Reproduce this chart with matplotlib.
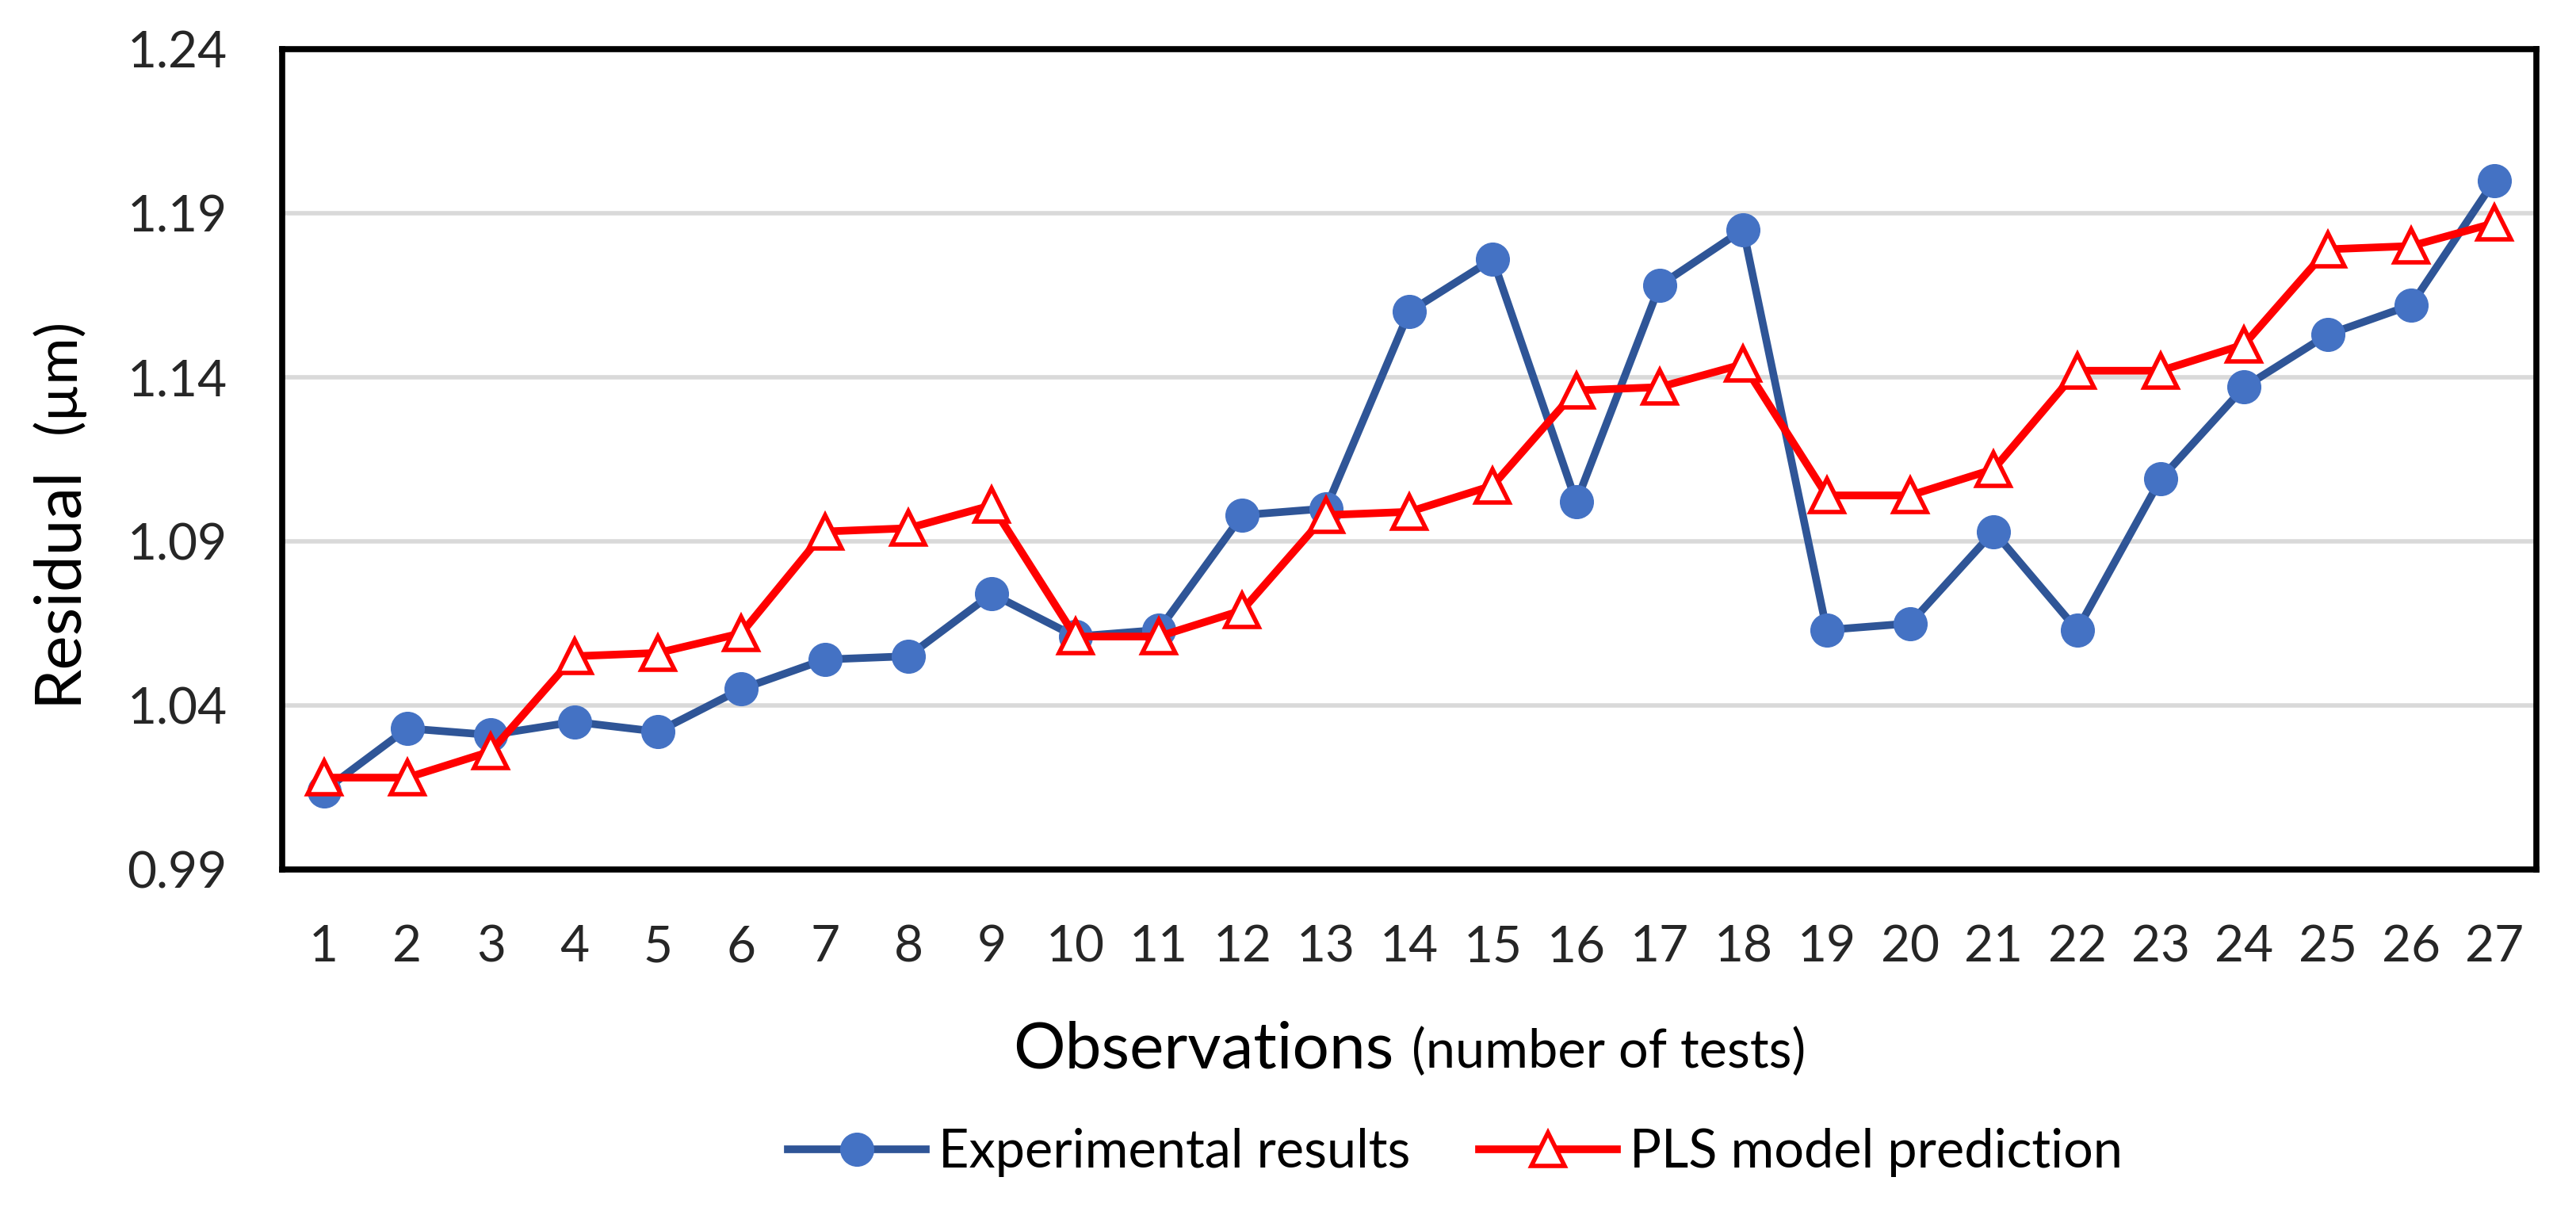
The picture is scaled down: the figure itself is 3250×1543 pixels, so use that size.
import numpy as np
import matplotlib
matplotlib.use("Agg")
import matplotlib.pyplot as plt

plt.rcParams['font.family'] = ['Lato', 'DejaVu Sans']

# observations 1..27
obs = list(range(1, 28))
experimental = [1.014, 1.033, 1.031, 1.035, 1.032, 1.045, 1.054, 1.055, 1.074, 1.061,
                1.063, 1.098, 1.100, 1.160, 1.176, 1.102, 1.168, 1.185, 1.063, 1.065,
                1.093, 1.063, 1.109, 1.137, 1.153, 1.162, 1.200]
pls_pred = [1.018, 1.018, 1.026, 1.055, 1.056, 1.062, 1.093, 1.094, 1.101, 1.061,
            1.061, 1.069, 1.098, 1.099, 1.107, 1.136, 1.137, 1.144, 1.104, 1.104,
            1.112, 1.142, 1.142, 1.150, 1.179, 1.180, 1.187]
yticks = [0.99, 1.04, 1.09, 1.14, 1.19, 1.24]

W, H = 3250, 1543
fig = plt.figure(figsize=(W / 100, H / 100), dpi=100)
ax = fig.add_axes([356 / W, 1 - 1097 / H, (3200 - 356) / W, (1097 - 62) / H])

x = np.arange(len(obs))
ax.plot(x, experimental, color='#2F5597', lw=7, marker='o', ms=30,
        mfc='#4472C4', mec='#4472C4', label='Experimental results', zorder=3)
ax.plot(x, pls_pred, color='#FF0000', lw=7, marker='^', ms=30, mfc='white',
        mec='#FF0000', mew=4, label='PLS model prediction', zorder=4)

ax.set_xlim(-0.5, len(obs) - 0.5)
ax.set_ylim(yticks[0], yticks[-1])
ax.set_xticks(x)
ax.set_xticklabels([str(o) for o in obs])
ax.set_yticks(yticks)
ax.set_yticklabels(['%.2f' % v for v in yticks])
ax.tick_params(length=0, labelsize=46, labelcolor='#262626', pad=50)
ax.grid(axis='y', color='#D9D9D9', lw=4, zorder=0)
ax.set_axisbelow(True)
for s in ax.spines.values():
    s.set_linewidth(5.5)
    s.set_color('black')
    s.set_zorder(5)

# axis titles with two text sizes
renderer = fig.canvas.get_renderer()
t1 = fig.text(0, 1 - 1347 / H, 'Observations', fontsize=59, ha='left', va='baseline')
t2 = fig.text(0, 1 - 1347 / H, '(number of tests)', fontsize=48, ha='left', va='baseline')
w1 = t1.get_window_extent(renderer).width
w2 = t2.get_window_extent(renderer).width
gap = 22
start = 1778 - (w1 + gap + w2) / 2
t1.set_x(start / W)
t2.set_x((start + w1 + gap) / W)

r1 = fig.text(95 / W, 0, 'Residual', fontsize=59, rotation=90, rotation_mode='anchor',
              ha='left', va='baseline')
r2 = fig.text(95 / W, 0, '(µm)', fontsize=52, rotation=90, rotation_mode='anchor',
              ha='left', va='baseline')
h1 = r1.get_window_extent(renderer).height
h2 = r2.get_window_extent(renderer).height
gap = 40
ystart = (H - 645) - (h1 + gap + h2) / 2
r1.set_y(ystart / H)
r2.set_y((ystart + h1 + gap) / H)

fig.legend(loc='center', bbox_to_anchor=(0.565, 1 - 1454 / H), ncol=2, frameon=False,
           fontsize=48, handlelength=2.6, handletextpad=0.25, columnspacing=1.3)

fig.savefig('out.png', dpi=100)
